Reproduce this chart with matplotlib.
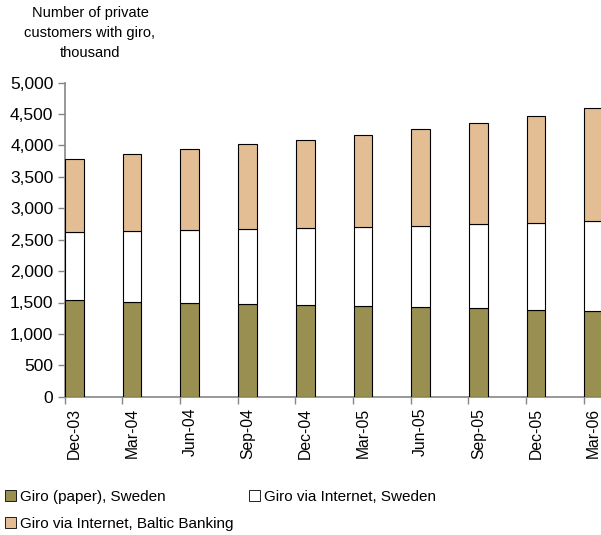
import matplotlib
matplotlib.use("Agg")
import matplotlib.pyplot as plt
import numpy as np
from matplotlib.patches import Patch
from matplotlib.ticker import FuncFormatter

plt.rcParams['font.family'] = ['Liberation Sans', 'DejaVu Sans']

quarters = ["Dec-03", "Mar-04", "Jun-04", "Sep-04", "Dec-04",
            "Mar-05", "Jun-05", "Sep-05", "Dec-05", "Mar-06"]
giro_paper = [1545, 1503, 1492, 1481, 1465, 1444, 1428, 1407, 1386, 1365]
giro_net_se = [1082, 1131, 1158, 1189, 1216, 1258, 1295, 1348, 1380, 1433]
giro_baltic = [1153, 1236, 1290, 1354, 1411, 1470, 1545, 1608, 1699, 1799]

c_paper = "#988F50"
c_net = "#FFFFFF"
c_baltic = "#E3BD94"
axis_grey = "#868686"

W, H = 601, 535
fig = plt.figure(figsize=(W / 100, H / 100), dpi=100)
left = 64.5 / W
ax = fig.add_axes([left, (H - 396.7) / H, 1 - left, (396.7 - 82.7) / H])

x = np.arange(len(quarters))
bw = 0.324
paper = np.array(giro_paper)
net = np.array(giro_net_se)
kw = dict(width=bw, align="edge", edgecolor="black", linewidth=0.8, zorder=3)
ax.bar(x + 0.01, paper, color=c_paper, **kw)
ax.bar(x + 0.01, net, bottom=paper, color=c_net, **kw)
ax.bar(x + 0.01, giro_baltic, bottom=paper + net, color=c_baltic, **kw)

ax.set_xlim(0, (W - 64.5) / 57.7)
ax.set_ylim(0, 5000)
ax.set_yticks(np.arange(0, 5001, 500))
ax.yaxis.set_major_formatter(FuncFormatter(lambda v, p: f"{int(v):,}"))
ax.tick_params(axis="y", labelsize=12.5, length=5, color=axis_grey, width=1, pad=3)

ax.set_xticks(x)
ax.set_xticklabels([])
ax.set_xticks(x + 0.01 + bw / 2, minor=True)
ax.set_xticklabels(quarters, minor=True, rotation=90, fontsize=11.3)
ax.tick_params(axis="x", which="major", length=5, color=axis_grey, width=1)
ax.tick_params(axis="x", which="minor", length=0, pad=8)

for s in ["top", "right"]:
    ax.spines[s].set_visible(False)
for s in ["left", "bottom"]:
    ax.spines[s].set_color(axis_grey)
    ax.spines[s].set_linewidth(1.2)

fig.text(90 / W, 1 - 33 / H, "Number of private\ncustomers with giro,\nthousand",
         ha="center", va="center", fontsize=10.5, linespacing=1.55)

handles = [Patch(facecolor=c_paper, edgecolor="black", linewidth=0.6),
           Patch(facecolor=c_baltic, edgecolor="black", linewidth=0.6),
           Patch(facecolor=c_net, edgecolor="black", linewidth=0.6)]
labels = ["Giro (paper), Sweden", "Giro via Internet, Baltic Banking",
          "Giro via Internet, Sweden"]
fig.legend(handles, labels, loc="upper left", bbox_to_anchor=(2 / W, 1 - 487 / H),
           ncol=2, frameon=False, fontsize=11, handlelength=0.7, handleheight=0.7,
           handletextpad=0.25, columnspacing=1.05, labelspacing=0.85,
           borderpad=0.2, borderaxespad=0)

fig.savefig("out.png", dpi=100)
